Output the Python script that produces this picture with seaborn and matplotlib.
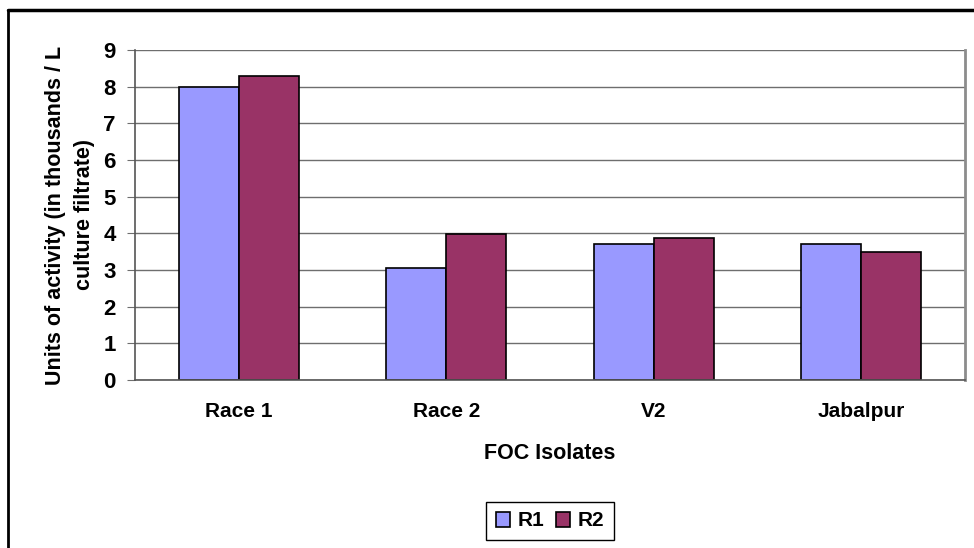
import pandas as pd
import matplotlib.pyplot as plt
import seaborn as sns
from matplotlib.lines import Line2D

# values
isolates = ["Race 1", "Race 2", "V2", "Jabalpur"]
r1 = [8.0, 3.06, 3.72, 3.72]
r2 = [8.28, 3.99, 3.88, 3.50]
y_ticks = [0, 1, 2, 3, 4, 5, 6, 7, 8, 9]

df = pd.DataFrame({
    "isolate": isolates * 2,
    "run": ["R1"] * 4 + ["R2"] * 4,
    "units": r1 + r2,
})

sns.set_style("white")
plt.rcParams["font.family"] = ["Liberation Sans", "DejaVu Sans"]
plt.rcParams["font.weight"] = "bold"
plt.rcParams["text.color"] = "black"
plt.rcParams["axes.labelcolor"] = "black"
plt.rcParams["xtick.color"] = "black"
plt.rcParams["ytick.color"] = "black"

fig = plt.figure(figsize=(9.74, 5.48), dpi=100)
ax = fig.add_axes([135 / 974, 1 - 380 / 548, 830 / 974, 330 / 548])

sns.barplot(data=df, x="isolate", y="units", hue="run", order=isolates,
            palette={"R1": "#9999FF", "R2": "#993366"}, width=0.58,
            edgecolor="black", linewidth=1.2, saturation=1, ax=ax)

ax.set_ylim(0, 9)
ax.set_xlim(-0.5, 3.5)
ax.set_yticks(y_ticks)
ax.set_yticklabels([str(t) for t in y_ticks], fontsize=16, fontweight="bold")
ax.yaxis.grid(True, color="#6e6e6e", linewidth=1)
ax.set_axisbelow(True)

# Excel style: tick marks between categories, labels centred
ax.set_xticks([-0.5, 0.5, 1.5, 2.5, 3.5])
ax.set_xticklabels([])
ax.set_xticks(range(len(isolates)), minor=True)
ax.set_xticklabels(isolates, minor=True, fontsize=15, fontweight="bold")
ax.tick_params(axis="x", which="minor", length=0, pad=16)
ax.tick_params(axis="x", which="major", length=6, color="#6e6e6e", direction="out")
ax.tick_params(axis="y", length=6, color="#6e6e6e", direction="out", pad=8, left=True)

for side in ["left", "bottom"]:
    ax.spines[side].set_color("#555555")
    ax.spines[side].set_linewidth(1.2)
ax.spines["right"].set_color("#8c8c8c")
ax.spines["right"].set_linewidth(2)
ax.spines["top"].set_visible(False)

ax.set_xlabel("FOC Isolates", fontsize=15.5, fontweight="bold", labelpad=16)
ax.set_ylabel("Units of activity (in thousands / L\nculture filtrate)",
              fontsize=15.5, fontweight="bold", labelpad=6, linespacing=1.5)

ax.legend(loc="center", bbox_to_anchor=(550 / 974, 1 - 521 / 548), bbox_transform=fig.transFigure,
          ncol=2, frameon=True, fancybox=False, edgecolor="black", framealpha=1,
          prop={"size": 15, "weight": "bold"}, handlelength=0.7, handleheight=0.7,
          handletextpad=0.35, columnspacing=0.55, borderpad=0.45)
ax.get_legend().get_frame().set_linewidth(1)

# outer chart border (top and left visible in the reference)
fig.add_artist(Line2D([8 / 974, 1], [1 - 10 / 548, 1 - 10 / 548], color="black", lw=2.5))
fig.add_artist(Line2D([8 / 974, 8 / 974], [0, 1 - 10 / 548], color="black", lw=2))

fig.savefig("out.png", dpi=100)
